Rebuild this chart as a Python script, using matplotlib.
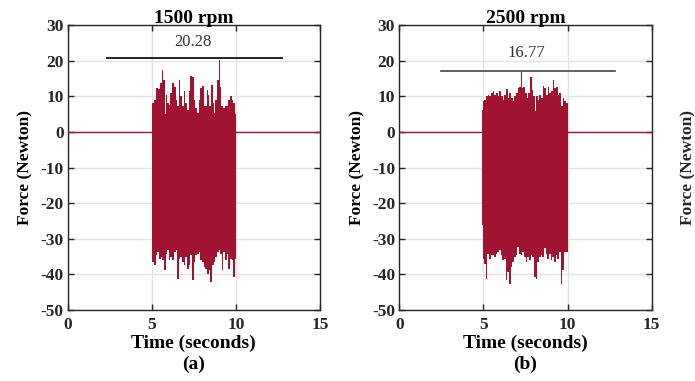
import matplotlib
matplotlib.use("Agg")
import matplotlib.pyplot as plt

plt.rcParams["font.family"] = ["Liberation Serif", "DejaVu Serif"]
plt.rcParams["axes.unicode_minus"] = False

SIGNAL_COLOR = "#A11431"

# 1500 rpm, upper peaks (time s, force N)
t_up_1500 = [5.00, 5.08, 5.18, 5.31, 5.43, 5.53, 5.63, 5.73, 5.79, 5.87,
             5.96, 6.06, 6.16, 6.26, 6.36, 6.46, 6.56, 6.65, 6.75, 6.85,
             6.95, 7.05, 7.15, 7.24, 7.34, 7.44, 7.54, 7.64, 7.74, 7.83,
             7.93, 8.03, 8.13, 8.23, 8.33, 8.39, 8.46, 8.56, 8.66, 8.72,
             8.82, 8.92, 9.02, 9.07, 9.17, 9.31, 9.41, 9.51, 9.61, 9.70,
             9.80, 9.90, 9.96, 10.02]
f_up_1500 = [8.6, 8.1, 9.0, 12.3, 12.0, 13.7, 17.5, 14.7, 4.9, 10.5,
             8.1, 7.7, 10.9, 13.7, 12.8, 9.0, 7.2, 14.7, 10.0, 7.2,
             11.4, 8.1, 6.3, 11.4, 15.8, 15.6, 9.0, 6.7, 5.3, 9.0,
             12.3, 13.0, 7.2, 7.2, 11.9, 10.5, 7.2, 13.3, 8.1, 5.3,
             9.0, 14.7, 20.3, 12.8, 7.2, 6.7, 7.2, 7.2, 9.0, 10.0,
             9.0, 8.1, 3.9, 3.9]
t_lo_1500 = [5.00, 5.08, 5.18, 5.28, 5.37, 5.47, 5.57, 5.67, 5.77, 5.87,
             5.96, 6.06, 6.16, 6.26, 6.36, 6.46, 6.56, 6.65, 6.75, 6.85,
             6.95, 7.05, 7.15, 7.24, 7.34, 7.44, 7.54, 7.64, 7.74, 7.83,
             7.93, 8.03, 8.13, 8.23, 8.33, 8.43, 8.52, 8.62, 8.72, 8.82,
             8.92, 9.02, 9.11, 9.21, 9.31, 9.41, 9.51, 9.61, 9.70, 9.80,
             9.90, 9.96, 10.02]
f_lo_1500 = [-35.6, -36.5, -37.5, -34.6, -33.7, -35.6, -35.1, -36.0, -38.9, -34.2,
             -33.2, -36.0, -35.1, -36.0, -33.7, -33.2, -41.2, -35.6, -35.1, -36.5,
             -37.5, -35.1, -38.4, -37.5, -34.6, -41.7, -36.5, -34.6, -34.2, -33.7,
             -36.0, -36.5, -37.9, -38.4, -39.8, -38.9, -42.2, -37.5, -36.5, -35.1,
             -33.7, -33.2, -34.2, -38.9, -33.7, -36.0, -34.2, -38.4, -35.6, -36.0,
             -40.7, -35.6, -17.0]

# 2500 rpm, upper peaks
t_up_2500 = [4.90, 5.00, 5.08, 5.20, 5.30, 5.40, 5.50, 5.60, 5.69, 5.79,
             5.89, 5.99, 6.09, 6.19, 6.29, 6.39, 6.49, 6.59, 6.69, 6.79,
             6.88, 6.98, 7.08, 7.18, 7.26, 7.34, 7.42, 7.52, 7.62, 7.72,
             7.82, 7.92, 8.02, 8.10, 8.17, 8.27, 8.37, 8.47, 8.57, 8.67,
             8.77, 8.87, 8.97, 9.07, 9.17, 9.27, 9.37, 9.46, 9.56, 9.66,
             9.76, 9.86, 9.96, 10.02]
f_up_2500 = [6.3, 8.6, 9.0, 10.0, 10.5, 10.0, 11.1, 11.4, 10.5, 11.1,
             10.0, 11.4, 10.0, 9.0, 10.5, 12.0, 9.5, 10.9, 9.5, 8.6,
             10.0, 10.9, 12.3, 12.8, 16.8, 12.3, 12.8, 10.9, 9.5, 10.9,
             15.6, 11.9, 10.0, 5.8, 10.0, 9.0, 10.5, 9.5, 13.0, 12.3,
             10.5, 12.6, 11.1, 11.4, 14.7, 12.3, 12.8, 10.5, 10.9, 7.2,
             9.5, 8.6, 8.1, 8.1]
t_lo_2500 = [4.90, 5.00, 5.08, 5.18, 5.28, 5.38, 5.48, 5.58, 5.67, 5.77,
             5.87, 5.97, 6.07, 6.17, 6.27, 6.37, 6.47, 6.57, 6.67, 6.77,
             6.87, 6.96, 7.06, 7.16, 7.26, 7.36, 7.46, 7.56, 7.66, 7.76,
             7.86, 7.96, 8.06, 8.15, 8.25, 8.35, 8.45, 8.55, 8.65, 8.75,
             8.85, 8.95, 9.05, 9.15, 9.25, 9.35, 9.44, 9.54, 9.64, 9.74,
             9.84, 9.94, 10.02]
f_lo_2500 = [-26.1, -35.6, -37.0, -41.2, -34.2, -35.6, -34.6, -34.6, -35.1, -34.2,
             -33.7, -33.2, -34.6, -36.0, -35.6, -41.7, -39.3, -42.6, -37.9, -36.5,
             -35.1, -34.6, -32.3, -34.2, -34.6, -33.7, -35.1, -36.5, -35.1, -36.0,
             -34.6, -35.1, -40.7, -41.2, -36.5, -35.1, -34.6, -35.1, -32.7, -34.2,
             -35.6, -34.2, -36.0, -35.1, -36.5, -34.6, -35.6, -33.7, -42.6, -38.9,
             -33.7, -33.7, -33.7]

# idle segments (zero force before and after the excitation)
t_idle = [[0, 5], [10, 15]]
f_idle = [0, 0]

titles = ["1500 rpm", "2500 rpm"]
panel_tags = ["(a)", "(b)"]
peak_labels = ["20.28", "16.77"]
peak_line_y = [20.7, 17.25]
peak_line_x = [[2.35, 12.72], [2.5, 12.8]]
peak_text_pos = [(7.47, 25.4), (7.56, 22.1)]
peak_line_colors = ["#111111", "#555555"]

panels = [
    (t_up_1500, f_up_1500, t_lo_1500, f_lo_1500),
    (t_up_2500, f_up_2500, t_lo_2500, f_lo_2500),
]

fig = plt.figure(figsize=(6.95, 3.81), dpi=100)
axes = [
    fig.add_axes([0.0974, 0.1864, 0.363, 0.7472]),
    fig.add_axes([0.5745, 0.1864, 0.3632, 0.7472]),
]

for i, ax in enumerate(axes):
    t_up, f_up, t_lo, f_lo = panels[i]

    for seg in t_idle:
        ax.plot(seg, f_idle, color=SIGNAL_COLOR, lw=1.0, zorder=3)

    ax.fill_between(t_up, -5, f_up, step="mid", color=SIGNAL_COLOR,
                    lw=0, antialiased=False, zorder=3)
    ax.fill_between(t_lo, f_lo, 5, step="mid", color=SIGNAL_COLOR,
                    lw=0, antialiased=False, zorder=3)

    ax.plot(peak_line_x[i], [peak_line_y[i]] * 2, color=peak_line_colors[i], lw=1.3, zorder=4)
    ax.text(peak_text_pos[i][0], peak_text_pos[i][1], peak_labels[i],
            ha="center", va="center", fontsize=12, color="#333333")

    ax.set_xlim(0, 15)
    ax.set_ylim(-50, 30)
    ax.set_xticks([0, 5, 10, 15])
    ax.set_yticks(range(-50, 31, 10))
    ax.grid(True, color="#E3E3E3", lw=1.0, zorder=0)
    ax.set_axisbelow(True)
    ax.tick_params(direction="in", top=True, right=True, length=4,
                   width=1, labelsize=12.5, colors="#262626")
    ax.tick_params(axis="x", pad=5)
    ax.tick_params(axis="y", pad=3)
    for label in ax.get_xticklabels() + ax.get_yticklabels():
        label.set_fontweight("bold")
    for spine in ax.spines.values():
        spine.set_color("#262626")
        spine.set_linewidth(1.0)

    ax.set_title(titles[i], fontsize=14, fontweight="bold", pad=2)
    ax.set_xlabel("Time (seconds)\n" + panel_tags[i], fontsize=14,
                  fontweight="bold", labelpad=1, linespacing=1.3)
    ax.set_ylabel("Force (Newton)", fontsize=12.5, fontweight="bold", labelpad=5)

# third panel's label, cut off by the right edge in the source figure
fig.text(0.99, 0.56, "Force (Newton)", rotation=90, ha="center", va="center",
         fontsize=12.5, fontweight="bold", color="#262626")

fig.savefig("out.png", dpi=100)
